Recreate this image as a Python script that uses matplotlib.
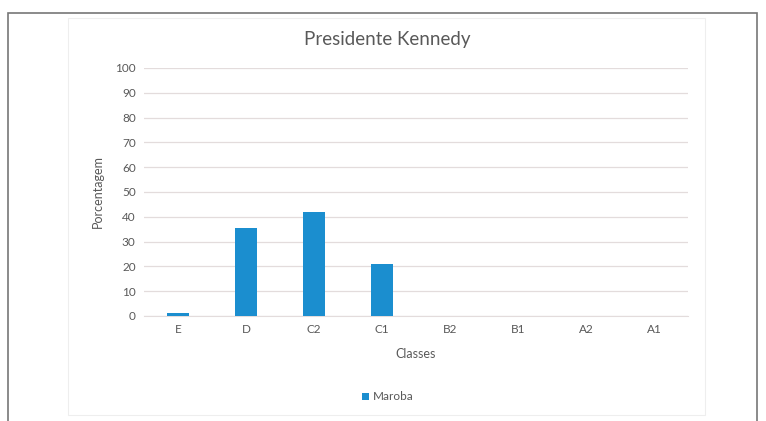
import numpy as np
import matplotlib.pyplot as plt
from matplotlib.patches import Rectangle

classes = ['E', 'D', 'C2', 'C1', 'B2', 'B1', 'A2', 'A1']
maroba = [1.3, 35.5, 42, 21, 0, 0, 0, 0]
yticks = list(range(0, 101, 10))

plt.rcParams['font.family'] = ['Lato', 'DejaVu Sans']

W, H = 766, 421
fig = plt.figure(figsize=(W / 100, H / 100), dpi=100)

# outer frame and faint chart box
fig.patches.append(Rectangle((8 / W, -0.05), 749 / W, 1.05 - 13 / H, transform=fig.transFigure,
                             fill=False, edgecolor='#777777', lw=1.2))
fig.patches.append(Rectangle((68 / W, 1 - 415 / H), 637 / W, 397 / H, transform=fig.transFigure,
                             fill=False, edgecolor='#eeeeee', lw=0.8))

ax = fig.add_axes([144 / W, 1 - 316 / H, 544 / W, 248 / H])
x = np.arange(len(classes))
ax.bar(x, maroba, width=0.32, color='#1b8ecf', label='Maroba', zorder=3)

ax.set_xlim(-0.5, len(classes) - 0.5)
ax.set_ylim(0, 100)
ax.set_yticks(yticks)
ax.set_xticks(x)
ax.set_xticklabels(classes)
ax.yaxis.grid(True, color='#e3dcdc', lw=0.9, zorder=0)
ax.tick_params(length=0, colors='#595959', labelsize=8.5, pad=6)
for s in ['top', 'right', 'left']:
    ax.spines[s].set_visible(False)
ax.spines['bottom'].set_color('#e3dcdc')

ax.set_xlabel('Classes', fontsize=9, color='#595959', labelpad=9)
ax.set_ylabel('Porcentagem', fontsize=9, color='#595959', labelpad=8)
fig.text(387 / W, 1 - 40 / H, 'Presidente Kennedy', fontsize=13.5, color='#595959',
         ha='center', va='center')

ax.legend(loc='center', bbox_to_anchor=(388 / W, 1 - 397 / H), bbox_transform=fig.transFigure,
          frameon=False, fontsize=8.5, handlelength=0.6, handleheight=0.6, handletextpad=0.3,
          labelcolor='#595959')

fig.savefig('out.png', dpi=100)
